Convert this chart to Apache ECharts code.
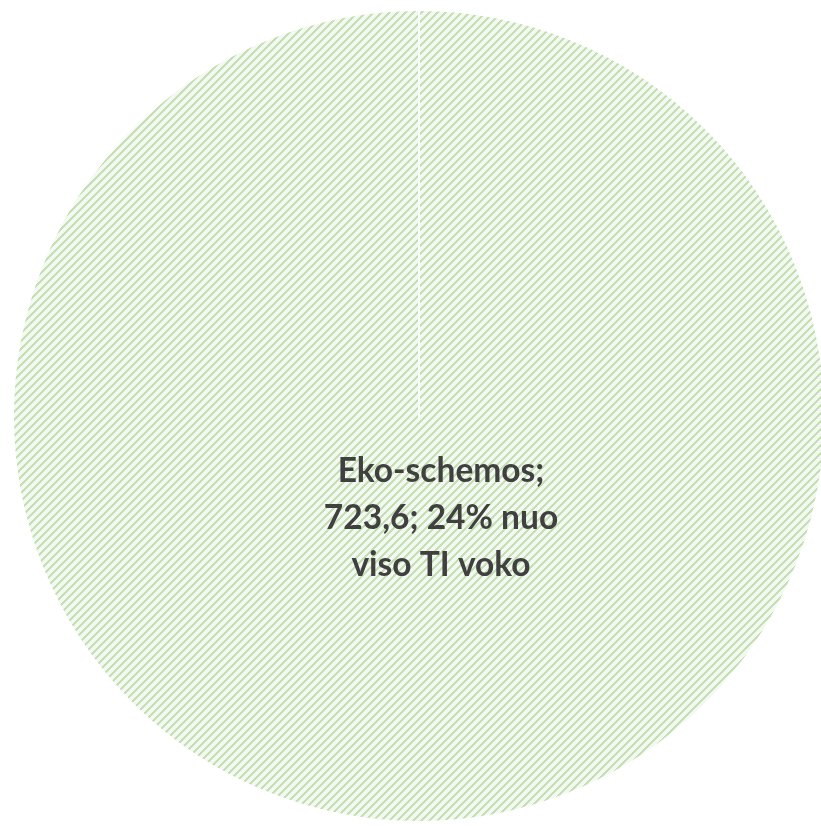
<!DOCTYPE html>
<html>
<head>
<meta charset="utf-8">
<script src="https://cdn.jsdelivr.net/npm/echarts@6/dist/echarts.min.js"></script>
<style>html,body{margin:0;padding:0;background:#fff;}#c{width:821px;height:826px;}</style>
</head>
<body>
<div id="c"></div>
<script>
const categories = ['Eko-schemos'];
const values = [723.6];
const shareOfTotal = [24];
const labelSuffix = 'nuo\nviso TI voko';

function makePattern() {
  const s = 8;
  const cv = document.createElement('canvas');
  cv.width = s; cv.height = s;
  const ctx = cv.getContext('2d');
  ctx.fillStyle = '#f3f9f0';
  ctx.fillRect(0, 0, s, s);
  ctx.fillStyle = '#c5e0b4';
  for (let y = 0; y < s; y++) {
    for (let x = 0; x < s; x++) {
      const k = (x + y) % s;
      if (k === 0 || k === 1 || k === 2) ctx.fillRect(x, y, 1, 1);
    }
  }
  return cv;
}

const cx = 419, cy = 416, r = 406;
const chart = echarts.init(document.getElementById('c'));
chart.setOption({
  animation: false,
  series: [{
    type: 'pie',
    center: [cx, cy],
    radius: r,
    startAngle: 90,
    clockwise: true,
    z: 2,
    itemStyle: { color: { image: makePattern(), repeat: 'repeat' }, borderColor: '#fff', borderWidth: 2 },
    label: {
      show: true,
      position: 'center',
      offset: [22, 102],
      fontFamily: 'Lato',
      fontWeight: 'bold',
      fontSize: 33.5,
      lineHeight: 47,
      color: '#404040',
      align: 'center',
      formatter: function (p) {
        const i = p.dataIndex;
        return categories[i] + ';\n' + String(values[i]).replace('.', ',') + '; ' + shareOfTotal[i] + '% ' + labelSuffix;
      }
    },
    labelLine: { show: false },
    emphasis: { disabled: true },
    data: categories.map((c, i) => ({ name: c, value: values[i] }))
  }],
  graphic: {
    elements: [{
      type: 'rect',
      z: 100,
      silent: true,
      shape: { x: cx - 1, y: cy - r - 2, width: 2, height: r + 6 },
      style: { fill: '#ffffff' }
    }]
  }
});
</script>
</body>
</html>
